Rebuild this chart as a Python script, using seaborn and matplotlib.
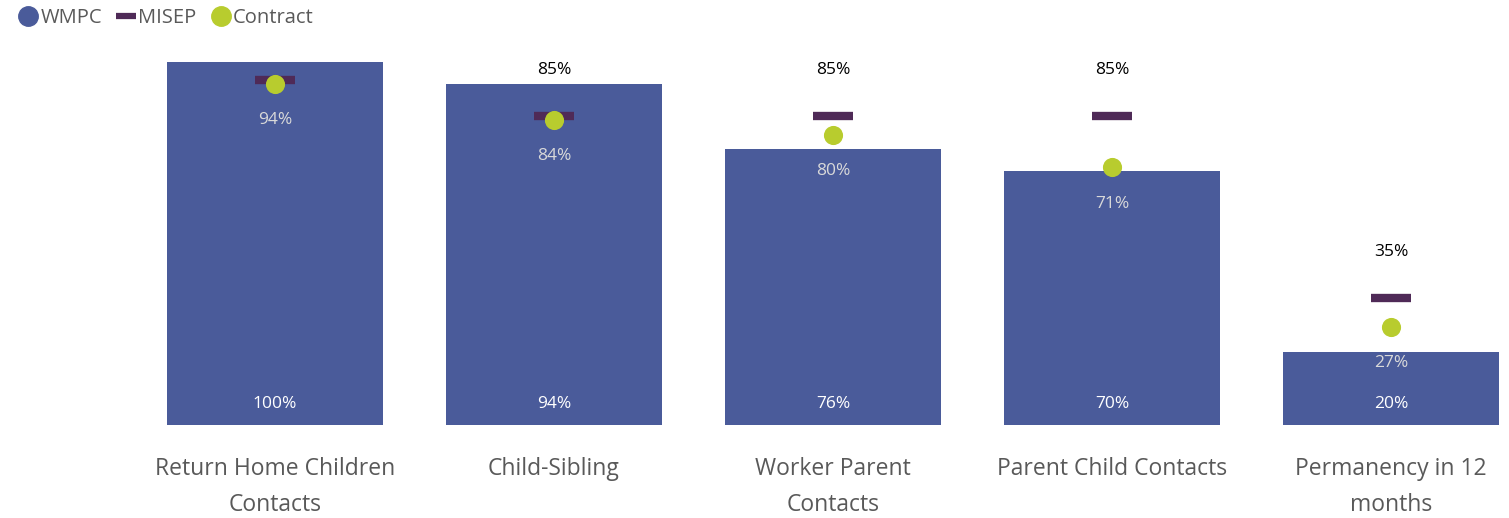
import matplotlib
matplotlib.use("Agg")
import matplotlib.pyplot as plt
from matplotlib.lines import Line2D
import seaborn as sns
import pandas as pd

categories = ["Return Home Children\nContacts", "Child-Sibling", "Worker Parent\nContacts",
              "Parent Child Contacts", "Permanency in 12\nmonths"]
wmpc = [100, 94, 76, 70, 20]
misep = [95, 85, 85, 85, 35]
contract = [94, 84, 80, 71, 27]
misep_labels = [None, "85%", "85%", "85%", "35%"]

bar_color = "#4a5b9a"
misep_color = "#4f2a57"
contract_color = "#b8cc2e"

sns.set_theme(style="white")
plt.rcParams["font.family"] = ["Open Sans", "DejaVu Sans"]

fig = plt.figure(figsize=(15.09, 5.18), dpi=100)
ax = fig.add_axes([0, 93 / 518, 1, 425 / 518])

df = pd.DataFrame({"cat": categories, "WMPC": wmpc})
sns.barplot(data=df, x="cat", y="WMPC", color=bar_color, saturation=1, width=0.775,
            linewidth=0, ax=ax)

x = list(range(len(categories)))
for i in x:
    ax.plot([i - 0.072, i + 0.072], [misep[i], misep[i]], color=misep_color, lw=6,
            solid_capstyle="butt", zorder=3)
ax.scatter(x, contract, s=190, color=contract_color, zorder=4, linewidths=0)

for i in x:
    ax.text(i, 3.5, f"{wmpc[i]}%", ha="center", va="bottom", color="white", fontsize=12.5)
    ax.text(i, contract[i] - 10, f"{contract[i]}%", ha="center", va="center",
            color="#d9d9d9", fontsize=12.5)
    if misep_labels[i]:
        ax.text(i, misep[i] + 12.7, misep_labels[i], ha="center", va="center",
                color="black", fontsize=12.5)

ax.set_xlim(-275 / 279, 1234 / 279)
ax.set_ylim(0, 425 / 3.63)
ax.set_xlabel("")
ax.set_ylabel("")
ax.set_yticks([])
ax.tick_params(axis="x", length=0, pad=23, labelsize=16.5, labelcolor="#595959")
for lbl in ax.get_xticklabels():
    lbl.set_linespacing(1.65)
for s in ax.spines.values():
    s.set_visible(False)

handles = [
    Line2D([], [], marker="o", linestyle="none", color=bar_color, markersize=14),
    Line2D([], [], color=misep_color, lw=4.5, solid_capstyle="butt"),
    Line2D([], [], marker="o", linestyle="none", color=contract_color, markersize=14),
]
fig.legend(handles, ["WMPC", "MISEP", "Contract"], loc="upper left", bbox_to_anchor=(0.0, 1.019),
           ncol=3, frameon=False, fontsize=14.5, handlelength=1.0, handletextpad=0.1,
           columnspacing=0.7, labelcolor="#595959")

fig.savefig("out.png", dpi=100)
